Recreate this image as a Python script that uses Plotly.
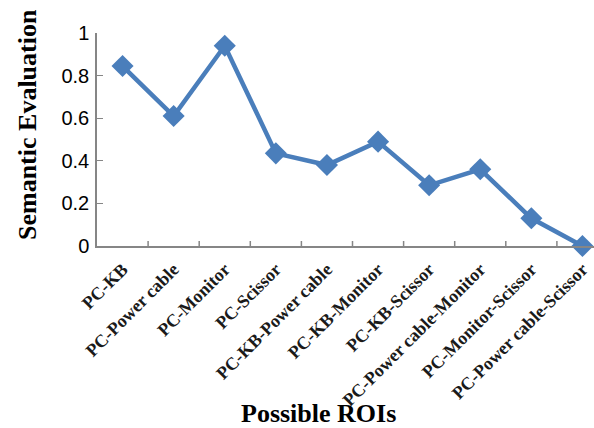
import plotly.graph_objects as go

categories = ["PC-KB", "PC-Power cable", "PC-Monitor", "PC-Scissor", "PC-KB-Power cable",
              "PC-KB-Monitor", "PC-KB-Scissor", "PC-Power cable-Monitor",
              "PC-Monitor-Scissor", "PC-Power cable-Scissor"]
values = [0.845, 0.61, 0.94, 0.435, 0.38, 0.49, 0.285, 0.36, 0.13, 0.0]
y_ticks = [0, 0.2, 0.4, 0.6, 0.8, 1]
y_tick_text = ["0", "0.2", "0.4", "0.6", "0.8", "1"]

W, H = 594, 428
ML, MT, MB = 97, 33, 182
plot_w = W - ML
color = "#4A7EBB"

fig = go.Figure()
fig.add_trace(go.Scatter(
    x=list(range(len(categories))), y=values, mode="lines+markers",
    line=dict(color=color, width=4.5),
    marker=dict(symbol="diamond", size=17, color=color),
    cliponaxis=False, showlegend=False,
))

px_per_cat = 51.1
xmax = -0.5 + plot_w / px_per_cat

fig.update_layout(
    width=W, height=H,
    margin=dict(l=ML, r=0, t=MT, b=MB, autoexpand=False),
    paper_bgcolor="white", plot_bgcolor="white",
    xaxis=dict(
        range=[-0.5, xmax], automargin=False,
        tickmode="array", tickvals=list(range(len(categories))), ticktext=categories,
        tickangle=-45,
        tickfont=dict(family="Liberation Serif", size=18, color="#1a1a1a", weight="bold"),
        showline=True, linecolor="#868686", linewidth=1.5,
        ticks="", showgrid=False, zeroline=False,
        ticklabelstandoff=4,
    ),
    yaxis=dict(
        range=[0, 1], tickvals=y_ticks, ticktext=y_tick_text, automargin=False,
        tickfont=dict(family="Liberation Sans", size=20, color="black"),
        showline=True, linecolor="#868686", linewidth=1.5,
        ticks="inside", ticklen=6, tickcolor="#868686",
        showgrid=False, zeroline=False,
        ticklabelstandoff=2,
    ),
)

# category boundary ticks (inside, pointing up from x axis)
for i in range(len(categories)):
    fig.add_shape(type="line", xref="x", yref="paper",
                  x0=i + 0.5, x1=i + 0.5, y0=0, y1=5 / 213,
                  line=dict(color="#868686", width=1.5))

fig.add_annotation(
    text="Semantic Evaluation", textangle=-90,
    xref="paper", yref="paper",
    x=(27 - ML) / plot_w, y=(246 - 125) / 213,
    xanchor="center", yanchor="middle", showarrow=False,
    font=dict(family="Liberation Serif", size=26, color="black", weight="bold"),
)
fig.add_annotation(
    text="Possible ROIs",
    xref="paper", yref="paper",
    x=(318 - ML) / plot_w, y=-(397 - 246) / 213,
    xanchor="center", yanchor="top", showarrow=False,
    font=dict(family="Liberation Serif", size=26, color="black", weight="bold"),
)

fig.write_html("out.html", config={"displayModeBar": False},
               post_script="document.body.style.margin='0px';document.body.style.overflow='hidden';")
